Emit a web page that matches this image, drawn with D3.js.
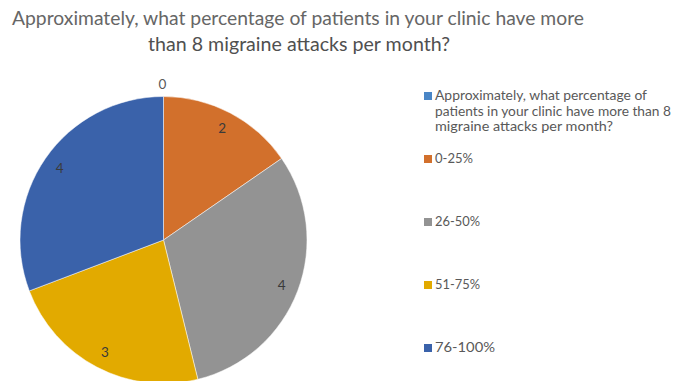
<!DOCTYPE html>
<html><head><meta charset="utf-8">
<script src="https://cdn.jsdelivr.net/npm/d3@7"></script>
<style>body{margin:0;background:#fff}svg{display:block}</style>
</head><body>
<script>
const categories = ["Approximately, what percentage of patients in your clinic have more than 8 migraine attacks per month?", "0-25%", "26-50%", "51-75%", "76-100%"];
const values = [0, 2, 4, 3, 4];
const colors = ["#4A86C6", "#D2702C", "#939393", "#E2AA00", "#3A62AA"];
const titleLines = ["Approximately, what percentage of patients in your clinic have more", "than 8 migraine attacks per month?"];
const legendFirstLines = ["Approximately, what percentage of", "patients in your clinic have more than 8", "migraine attacks per month?"];

const W = 676, H = 381;
const font = "Lato, 'Open Sans', sans-serif";
const svg = d3.select("body").append("svg").attr("width", W).attr("height", H);

// Title
const title = svg.append("g").attr("font-family", font).attr("fill", "#666").attr("text-anchor", "middle").attr("font-size", 19.5);
title.append("text").attr("x", 298).attr("y", 25).attr("textLength", 572).attr("lengthAdjust", "spacingAndGlyphs").text(titleLines[0]);
title.append("text").attr("x", 299).attr("y", 51).attr("textLength", 302).attr("lengthAdjust", "spacingAndGlyphs").attr("fill", "#505050").text(titleLines[1]);

// Pie
const cx = 163.5, cy = 240, R = 143.5;
const pie = d3.pie().sort(null).value(d => d)(values);
const arc = d3.arc().innerRadius(0).outerRadius(R);
const g = svg.append("g").attr("transform", `translate(${cx},${cy})`);
g.selectAll("path").data(pie).enter().append("path")
  .attr("d", arc).attr("fill", (d, i) => colors[i])
  .attr("stroke", "#fff").attr("stroke-width", 0.5);
const labelArc = d3.arc().innerRadius(R * 0.88).outerRadius(R * 0.88);
g.selectAll("text.lbl").data(pie).enter().append("text")
  .attr("class", "lbl")
  .attr("transform", d => {
    if (d.data === 0) return `translate(-1,${-R - 12})`;
    const c = labelArc.centroid(d); return `translate(${c[0]},${c[1]})`;
  })
  .attr("text-anchor", "middle").attr("dy", "0.35em")
  .attr("font-family", font).attr("font-size", 13.5)
  .attr("fill", d => d.data === 0 ? "#595959" : "#3a3a3a")
  .text(d => d.data);

// Legend
const lg = svg.append("g").attr("font-family", font).attr("fill", "#595959").attr("font-size", 12.5);
const legendY = [96, 159, 222, 285, 348];
const legendW = [[212, 236, 178], [38], [45], [45], [60]];
categories.forEach((c, i) => {
  lg.append("rect").attr("x", 424).attr("y", legendY[i] - 4).attr("width", 8).attr("height", 8).attr("fill", colors[i]);
  const lines = i === 0 ? legendFirstLines : [c];
  lines.forEach((ln, j) => {
    lg.append("text").attr("x", 435).attr("y", legendY[i] + j * 15.5).attr("dy", "0.35em")
      .attr("textLength", legendW[i][j]).attr("lengthAdjust", "spacingAndGlyphs").text(ln);
  });
});
</script>
</body></html>
